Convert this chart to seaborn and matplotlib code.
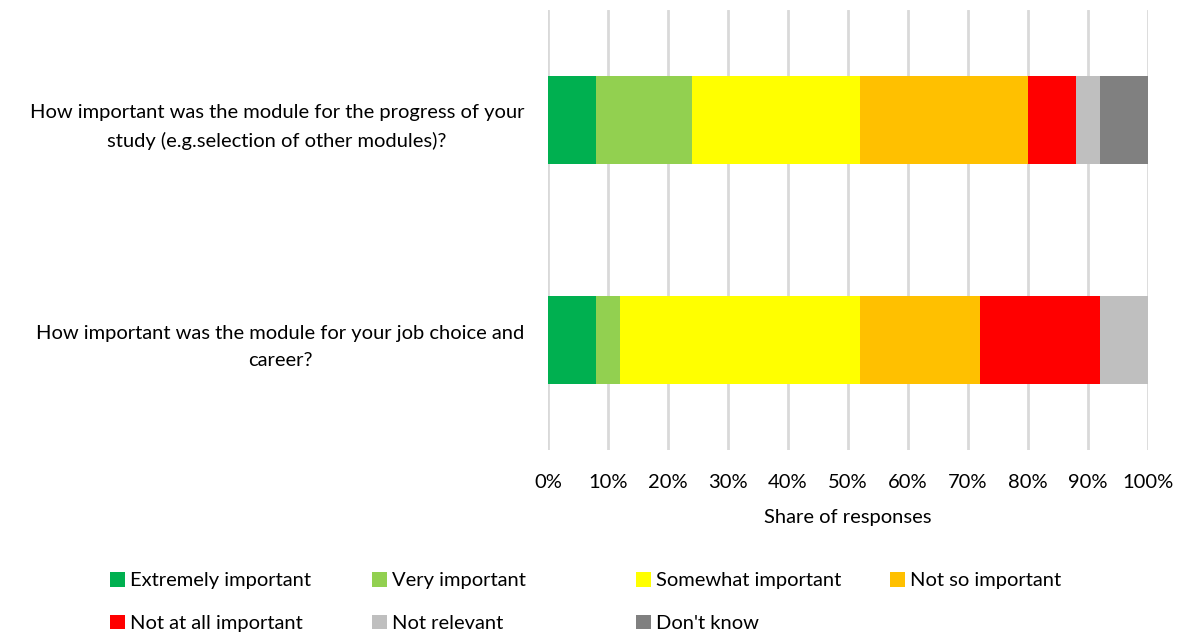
import matplotlib
matplotlib.use('Agg')
import matplotlib.pyplot as plt
from matplotlib.patches import Patch
from matplotlib.ticker import PercentFormatter
import seaborn as sns
import pandas as pd
import numpy as np

# data
questions = [
    "How important was the module for the progress of your\nstudy (e.g.selection of other modules)?",
    "How important was the module for your job choice and\ncareer?",
]
categories = ["Extremely important", "Very important", "Somewhat important",
              "Not so important", "Not at all important", "Not relevant", "Don't know"]
progress_share = [8, 16, 28, 28, 8, 4, 8]
career_share = [8, 4, 40, 20, 20, 8, 0]
colors = ["#00b050", "#92d050", "#ffff00", "#ffc000", "#ff0000", "#bfbfbf", "#808080"]

sns.set_style("white")
plt.rcParams['font.family'] = ['Lato', 'DejaVu Sans']
plt.rcParams['text.color'] = 'black'
plt.rcParams['axes.labelcolor'] = 'black'
plt.rcParams['xtick.color'] = 'black'
plt.rcParams['ytick.color'] = 'black'
FS = 14.5

rows = []
for q, vals in zip(questions, [progress_share, career_share]):
    cum = np.cumsum(vals)
    for cat, v, c in zip(categories, vals, cum):
        rows.append({"question": q, "category": cat, "share": v, "cum": c})
df = pd.DataFrame(rows)

fig = plt.figure(figsize=(11.77, 6.35), dpi=100)
ax = fig.add_axes([548 / 1177, 1 - 450 / 635, 600 / 1177, 440 / 635])

# stacked bars: draw cumulative totals from the last segment back to the first
for cat, col in reversed(list(zip(categories, colors))):
    sub = df[df["category"] == cat]
    sns.barplot(data=sub, x="cum", y="question", order=questions, color=col,
                width=0.4, linewidth=0, saturation=1, ax=ax, orient="h")

ax.set_xlim(0, 100)
ax.set_ylim(1.5, -0.5)
ax.xaxis.set_major_locator(matplotlib.ticker.MultipleLocator(10))
ax.xaxis.set_major_formatter(PercentFormatter(decimals=0))
ax.grid(axis="x", color="#d9d9d9", linewidth=2)
ax.set_axisbelow(True)
for s in ax.spines.values():
    s.set_visible(False)
ax.tick_params(axis="x", length=0, pad=17, labelsize=FS)
ax.tick_params(axis="y", length=0, pad=17, labelsize=FS)
for lbl in ax.get_yticklabels():
    lbl.set_multialignment("center")
    lbl.set_linespacing(1.75)
ax.set_xlabel("Share of responses", fontsize=FS, labelpad=13)
ax.set_ylabel("")

# legend laid out in four fixed columns like the original
handles = [Patch(facecolor=c, edgecolor="none") for c in colors]
col_x = [100, 362, 626, 880]
for i, x in enumerate(col_x):
    leg = fig.legend(handles[i::4], categories[i::4], loc="upper left",
                     bbox_to_anchor=(x / 1177, 1 - 562 / 635), frameon=False,
                     fontsize=FS, handlelength=0.75, handleheight=0.75,
                     handletextpad=0.25, labelspacing=1.25, borderpad=0)

fig.savefig("out.png", dpi=100)
